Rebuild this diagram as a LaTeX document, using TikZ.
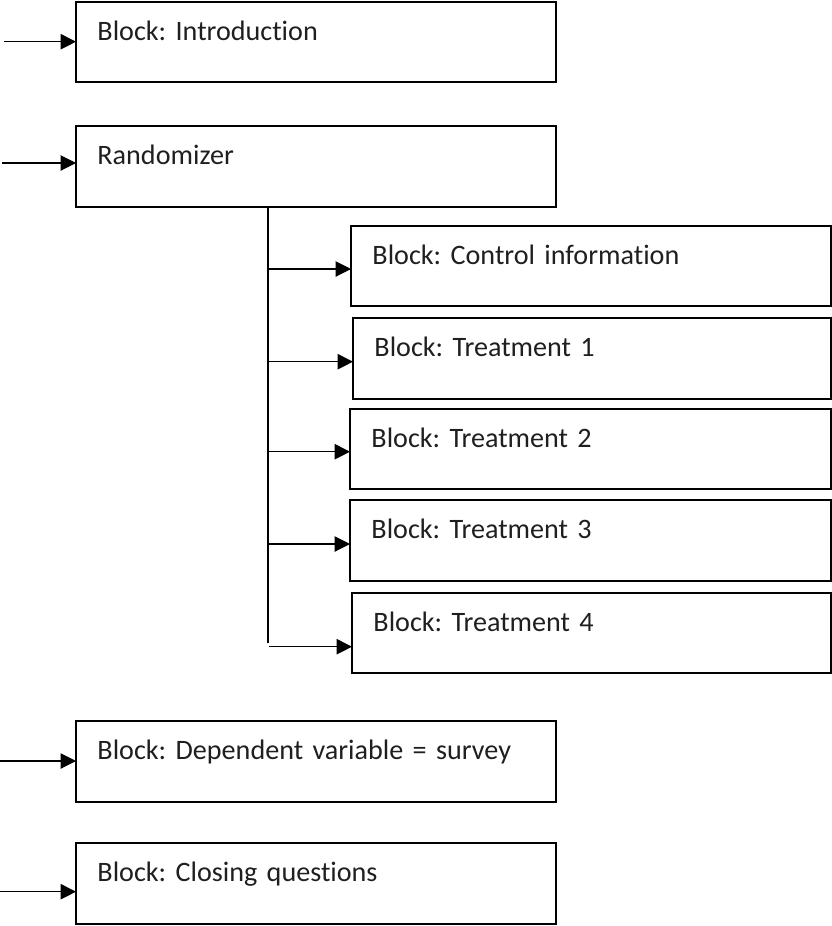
\documentclass[tikz,border=0pt]{standalone}
\usepackage{fontspec}
\setmainfont[Ligatures=NoCommon]{Carlito}
\frenchspacing
\usetikzlibrary{arrows.meta}
\begin{document}
\begin{tikzpicture}[x=0.75pt,y=-0.75pt,
  blk/.style 2 args={draw, line width=1pt, rectangle, anchor=north west,
    outer sep=0pt, inner ysep=0pt, inner xsep=16.1pt, align=left,
    text width=#1, text height=28.5pt, text depth=#2, text=black!88,
    font=\fontsize{21.1}{25}\selectfont},
  flow/.style={line width=0.8pt, -{Triangle[length=11.5pt,width=11.5pt]}},
  trunkline/.style={line width=0.8pt}]
\useasboundingbox (0,0) rectangle (832,926);

% main sequence of blocks
\node[blk={327.75pt}{31.5pt}]  (intro) at (76,2)   {Block: Introduction};
\node[blk={327.75pt}{32.25pt}] (rand)  at (76,126) {Randomizer};

% randomized conditions
\node[blk={327.75pt}{31.5pt}]  (ctrl) at (351,226) {Block: Control information};
\node[blk={326.25pt}{32.25pt}] (t1)   at (353,318) {Block: Treatment 1};
\node[blk={328.5pt}{31.5pt}]   (t2)   at (350,409) {Block: Treatment 2};
\node[blk={328.5pt}{32.25pt}]  (t3)   at (350,500) {Block: Treatment 3};
\node[blk={327pt}{31.5pt}]     (t4)   at (352,593) {Block: Treatment 4};

% closing blocks
\node[blk={327.75pt}{32.25pt}] (dep)   at (76,721) {Block: Dependent variable = survey};
\node[blk={327.75pt}{32.25pt}] (close) at (76,843) {Block: Closing questions};

% incoming arrows
\coordinate (inIntro) at (4,41.7);
\coordinate (inRand)  at (2,163);
\coordinate (inDep)   at (0,761);
\coordinate (inClose) at (0,891.7);
\draw[flow] (inIntro) -- (inIntro -| intro.west);
\draw[flow] (inRand)  -- (inRand -| rand.west);
\draw[flow] (inDep)   -- (inDep -| dep.west);
\draw[flow] (inClose) -- (inClose -| close.west);

% branching trunk from the randomizer
\coordinate (trunkEnd) at (268,643);
\draw[trunkline] (trunkEnd |- rand.south) -- (trunkEnd);

\coordinate (bCtrl) at (269,269);
\coordinate (bT1)   at (269,361.7);
\coordinate (bT2)   at (269,451.7);
\coordinate (bT3)   at (269,544);
\coordinate (bT4)   at (269,646.7);
\draw[flow] (bCtrl) -- (bCtrl -| ctrl.west);
\draw[flow] (bT1)   -- (bT1 -| t1.west);
\draw[flow] (bT2)   -- (bT2 -| t2.west);
\draw[flow] (bT3)   -- (bT3 -| t3.west);
\draw[flow] (bT4)   -- (bT4 -| t4.west);
\end{tikzpicture}
\end{document}
